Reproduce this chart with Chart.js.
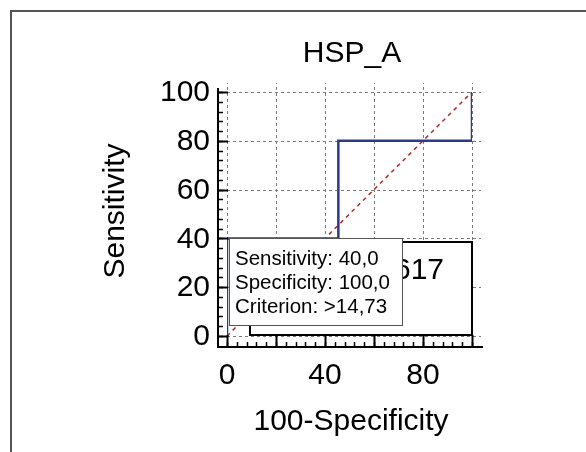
<!DOCTYPE html>
<html>
<head>
<meta charset="utf-8">
<script src="https://cdn.jsdelivr.net/npm/chart.js@4"></script>
<style>
html,body{margin:0;padding:0;background:#fff;}
canvas{display:block;}
</style>
</head>
<body>
<canvas id="c" width="586" height="452"></canvas>
<script>
// ---- data ----
const chartTitle = 'HSP_A';
const xAxisTitle = '100-Specificity';
const yAxisTitle = 'Sensitivity';
const rocFPR  = [0, 0, 45.45, 45.45, 100, 100];
const rocSens = [0, 40, 40, 80, 80, 100];
const refX = [0, 100];
const refY = [0, 100];
const gridValues = [0, 20, 40, 60, 80, 100];
const yTickLabels = [0, 20, 40, 60, 80, 100];
const xTickLabels = [0, 40, 80];
const minorStep = 4;
const aucText = 'AUC = 0,617';
const tooltipLines = ['Sensitivity: 40,0', 'Specificity: 100,0', 'Criterion: >14,73'];

const FONT = '"Liberation Sans", Arial, sans-serif';

const rocData = rocFPR.map((x, i) => ({x: x, y: rocSens[i]}));
const refData = refX.map((x, i) => ({x: x, y: refY[i]}));

const custom = {
  id: 'custom',
  beforeDraw(chart) {
    const ctx = chart.ctx;
    ctx.save();
    ctx.fillStyle = '#fff';
    ctx.fillRect(0, 0, chart.width, chart.height);
    // outer frame
    ctx.strokeStyle = '#555';
    ctx.lineWidth = 2;
    ctx.beginPath();
    ctx.moveTo(11, 452);
    ctx.lineTo(11, 11);
    ctx.lineTo(586, 11);
    ctx.stroke();
    ctx.restore();
  },
  beforeDatasetsDraw(chart) {
    const ctx = chart.ctx, xs = chart.scales.x, ys = chart.scales.y;
    const a = chart.chartArea;
    ctx.save();
    ctx.strokeStyle = '#7a7a7a';
    ctx.lineWidth = 1;
    ctx.setLineDash([3, 3]);
    gridValues.forEach(v => {
      const py = Math.round(ys.getPixelForValue(v)) + 0.5;
      ctx.beginPath(); ctx.moveTo(a.left, py); ctx.lineTo(a.right + 9, py); ctx.stroke();
      const px = Math.round(xs.getPixelForValue(v)) + 0.5;
      ctx.beginPath(); ctx.moveTo(px, a.bottom); ctx.lineTo(px, a.top - 9); ctx.stroke();
    });
    ctx.restore();
  },
  afterDatasetsDraw(chart) {
    const ctx = chart.ctx, xs = chart.scales.x, ys = chart.scales.y;
    const a = chart.chartArea;
    ctx.save();
    // AUC box
    const bx1 = 250, by1 = 242, bx2 = xs.getPixelForValue(100), by2 = ys.getPixelForValue(0) - 1;
    ctx.fillStyle = '#fff';
    ctx.fillRect(bx1, by1, bx2 - bx1, by2 - by1);
    ctx.strokeStyle = '#000';
    ctx.lineWidth = 2;
    ctx.strokeRect(bx1, by1, bx2 - bx1, by2 - by1);
    ctx.fillStyle = '#000';
    ctx.font = '30px ' + FONT;
    ctx.textAlign = 'right';
    ctx.textBaseline = 'alphabetic';
    ctx.fillText(aucText, 444, 279);

    // axes lines
    const axX = 218, axY = 347;
    ctx.lineWidth = 2;
    ctx.strokeStyle = '#000';
    ctx.beginPath();
    ctx.moveTo(axX, a.top - 4);
    ctx.lineTo(axX, axY);
    ctx.lineTo(a.right + 11, axY);
    ctx.stroke();
    // ticks
    ctx.lineWidth = 1.5;
    for (let v = 0; v <= 100; v += minorStep) {
      const py = Math.round(ys.getPixelForValue(v)) + 0.5;
      const px = Math.round(xs.getPixelForValue(v)) + 0.5;
      ctx.beginPath(); ctx.moveTo(axX, py); ctx.lineTo(axX + 5, py); ctx.stroke();
      ctx.beginPath(); ctx.moveTo(px, axY); ctx.lineTo(px, axY - 5); ctx.stroke();
    }
    ctx.lineWidth = 2;
    gridValues.forEach(v => {
      const py = Math.round(ys.getPixelForValue(v)) + 0.5;
      const px = Math.round(xs.getPixelForValue(v)) + 0.5;
      ctx.beginPath(); ctx.moveTo(axX, py); ctx.lineTo(a.left + 1, py); ctx.stroke();
      ctx.beginPath(); ctx.moveTo(px, axY); ctx.lineTo(px, a.bottom - 1); ctx.stroke();
    });
    // tick labels
    ctx.fillStyle = '#000';
    ctx.font = '30px ' + FONT;
    ctx.textAlign = 'right';
    ctx.textBaseline = 'middle';
    yTickLabels.forEach(v => ctx.fillText(String(v), 210, ys.getPixelForValue(v) + 1));
    ctx.textAlign = 'center';
    ctx.textBaseline = 'alphabetic';
    xTickLabels.forEach(v => ctx.fillText(String(v), xs.getPixelForValue(v), 384));
    // titles
    ctx.fillText(xAxisTitle, 351, 430);
    ctx.fillText(chartTitle, 352, 62);
    ctx.save();
    ctx.translate(124, 211);
    ctx.rotate(-Math.PI / 2);
    ctx.fillText(yAxisTitle, 0, 0);
    ctx.restore();

    // tooltip
    const tx1 = 229.5, ty1 = 238.5, tx2 = 402.5, ty2 = 325.5;
    ctx.fillStyle = '#fff';
    ctx.fillRect(tx1, ty1, tx2 - tx1, ty2 - ty1);
    ctx.strokeStyle = '#555';
    ctx.lineWidth = 1;
    ctx.strokeRect(tx1, ty1, tx2 - tx1, ty2 - ty1);
    ctx.fillStyle = '#000';
    ctx.font = '20.5px ' + FONT;
    ctx.textAlign = 'left';
    tooltipLines.forEach((t, i) => ctx.fillText(t, 235, 265 + i * 24));
    ctx.restore();
  }
};

new Chart(document.getElementById('c'), {
  type: 'scatter',
  data: {
    datasets: [
      {
        label: 'Reference',
        data: refData,
        showLine: true,
        borderColor: '#b0262b',
        borderWidth: 1.5,
        borderDash: [4, 4],
        pointRadius: 0,
        order: 2
      },
      {
        label: 'ROC',
        data: rocData,
        showLine: true,
        borderColor: '#2c3a8c',
        borderWidth: 2.5,
        pointRadius: 0,
        tension: 0,
        order: 1
      }
    ]
  },
  options: {
    responsive: false,
    animation: false,
    devicePixelRatio: 1,
    layout: { padding: { left: 227, right: 114, top: 92, bottom: 116 } },
    plugins: { legend: { display: false }, tooltip: { enabled: false }, title: { display: false } },
    scales: {
      x: { type: 'linear', min: 0, max: 100, display: false },
      y: { type: 'linear', min: 0, max: 100, display: false }
    }
  },
  plugins: [custom]
});
</script>
</body>
</html>
